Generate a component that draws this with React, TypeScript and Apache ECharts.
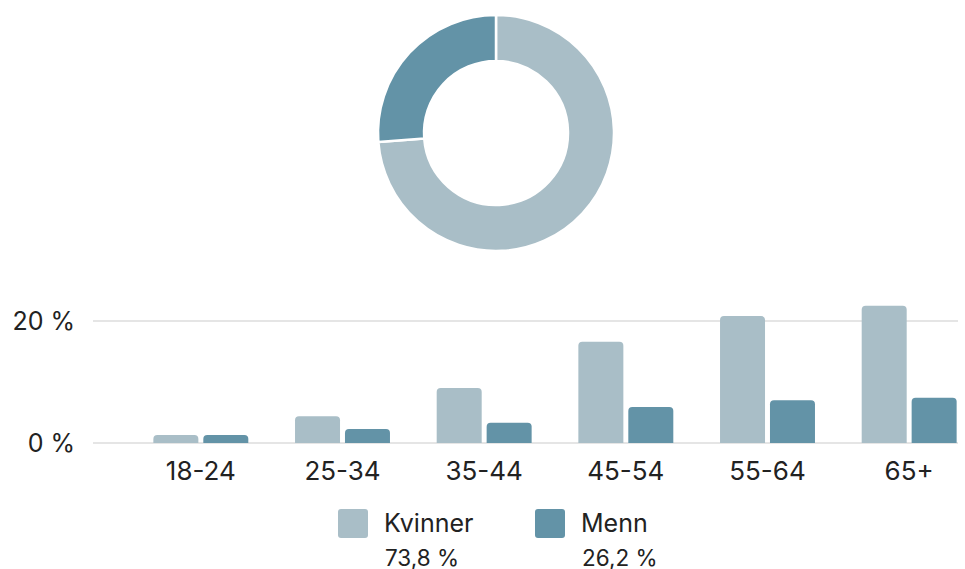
import React, { useEffect, useRef } from "react";
import * as echarts from "echarts";

const categories = ["18-24", "25-34", "35-44", "45-54", "55-64", "65+"];
const seriesNames = ["Kvinner", "Menn"];
const kvinnerValues = [1.3, 4.4, 9.0, 16.6, 20.8, 22.5];
const mennValues = [1.3, 2.3, 3.3, 5.9, 7.0, 7.4];
const shareValues = [73.8, 26.2];
const shareLabels = ["73,8 %", "26,2 %"];
const yTicks = [0, 20];
const colors = ["#a9bec7", "#6393a7"];

const FONT = "Inter, 'Noto Sans', sans-serif";
const TEXT = "#222222";
const CANVAS_W = 985;

export default function App() {
  const ref = useRef<HTMLDivElement>(null);

  useEffect(() => {
    document.body.style.margin = "0";
    document.body.style.overflow = "hidden";
    if (!ref.current) return;
    const chart = echarts.init(ref.current, undefined, { renderer: "svg" });

    const legendX = [338, 535];
    const graphic: any[] = [];
    seriesNames.forEach((name, i) => {
      graphic.push({
        type: "rect",
        shape: { x: legendX[i], y: 509, width: 30, height: 29, r: 3 },
        style: { fill: colors[i] },
      });
      graphic.push({
        type: "text",
        x: legendX[i] + 46,
        y: 523,
        style: {
          text: name,
          fill: TEXT,
          font: `25px ${FONT}`,
          verticalAlign: "middle",
        },
      });
      graphic.push({
        type: "text",
        x: legendX[i] + 47,
        y: 557,
        style: {
          text: shareLabels[i],
          fill: TEXT,
          font: `22.5px ${FONT}`,
          verticalAlign: "middle",
        },
      });
    });

    const option: any = {
      animation: false,
      textStyle: { fontFamily: FONT },
      grid: [
        { left: 93, right: CANVAS_W - 958, top: 321, bottom: 126, containLabel: false },
        { left: 130, right: CANVAS_W - 980, top: 321, bottom: 126, containLabel: false },
      ],
      xAxis: [
        { type: "category", gridIndex: 0, data: categories, show: false },
        {
          type: "category",
          gridIndex: 1,
          data: categories,
          axisLine: { show: false },
          axisTick: { show: false },
          axisLabel: { color: TEXT, fontSize: 26, margin: 14, fontFamily: FONT },
        },
      ],
      yAxis: [
        {
          type: "value",
          gridIndex: 0,
          min: yTicks[0],
          max: yTicks[yTicks.length - 1],
          interval: 20,
          axisLine: { show: false },
          axisTick: { show: false },
          axisLabel: {
            color: TEXT,
            fontSize: 25,
            margin: 18,
            fontFamily: FONT,
            formatter: "{value} %",
          },
          splitLine: { lineStyle: { color: "#dcdcdc", width: 1.5 } },
        },
        {
          type: "value",
          gridIndex: 1,
          min: 0,
          max: 20,
          interval: 20,
          show: false,
          splitLine: { show: false },
        },
      ],
      series: [
        {
          type: "pie",
          name: "Andel",
          center: [496, 133],
          radius: [72, 118],
          startAngle: 90,
          clockwise: true,
          label: { show: false },
          labelLine: { show: false },
          itemStyle: { borderColor: "#ffffff", borderWidth: 2.5 },
          emphasis: { disabled: true },
          data: seriesNames.map((n, i) => ({
            name: n,
            value: shareValues[i],
            itemStyle: { color: colors[i] },
          })),
        },
        {
          type: "bar",
          name: seriesNames[0],
          xAxisIndex: 1,
          yAxisIndex: 1,
          data: kvinnerValues,
          barWidth: 45,
          barGap: "11%",
          clip: false,
          itemStyle: { color: colors[0], borderRadius: [4, 4, 0, 0] },
        },
        {
          type: "bar",
          name: seriesNames[1],
          xAxisIndex: 1,
          yAxisIndex: 1,
          data: mennValues,
          barWidth: 45,
          barGap: "11%",
          clip: false,
          itemStyle: { color: colors[1], borderRadius: [4, 4, 0, 0] },
        },
      ],
      graphic,
    };

    chart.setOption(option);
    return () => chart.dispose();
  }, []);

  return (
    <div style={{ position: "absolute", left: 0, top: 0, width: 965, height: 569, overflow: "hidden" }}>
      <div ref={ref} style={{ width: CANVAS_W, height: 569 }} />
    </div>
  );
}
